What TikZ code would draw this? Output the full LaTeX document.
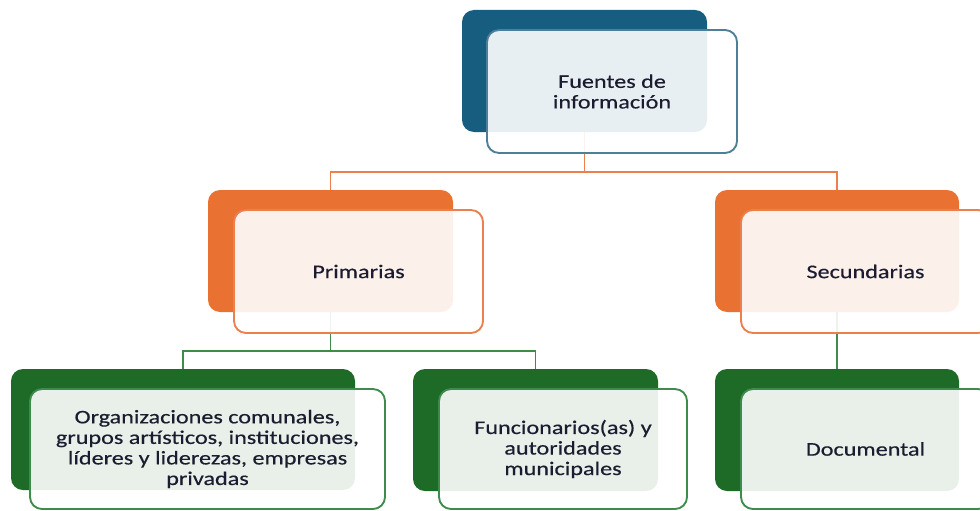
\documentclass[tikz,border=0pt]{standalone}
\usepackage{fontspec}
\setmainfont{Carlito}[FakeStretch=1.25, FakeBold=0.4]
\definecolor{bBack}{HTML}{175D80}
\definecolor{bLine}{HTML}{4E7F99}
\definecolor{oBack}{HTML}{E97132}
\definecolor{oLine}{HTML}{EC7F4E}
\definecolor{gBack}{HTML}{1E6B28}
\definecolor{gLine}{HTML}{3F8B4C}
\definecolor{txt}{HTML}{1C1C30}
\tikzset{
  backbox/.style={draw=none, rounded corners=9pt, inner sep=0pt},
  frontbox/.style={rounded corners=9pt, line width=1.4pt, fill=white, fill opacity=0.9,
    text opacity=1, inner sep=0pt, align=center, text=txt,
    font=\fontsize{14.5}{15.4}\selectfont},
  orangecon/.style={draw=oLine, line width=1.1pt},
  greencon/.style={draw=gLine, line width=1.1pt}
}
\begin{document}
\begin{tikzpicture}[x=0.75pt, y=-0.75pt]
\useasboundingbox (0,0) rectangle (980,510);
\clip (0,0) rectangle (980,510);
% back boxes
\node[backbox, fill=bBack, minimum width=183.75pt, minimum height=91.5pt] (topback) at (584.5,71) {};
\node[backbox, fill=oBack, minimum width=183.75pt, minimum height=91.5pt] (primback) at (330.5,251) {};
\node[backbox, fill=oBack, minimum width=183pt, minimum height=91.5pt] (secback) at (837,251) {};
\node[backbox, fill=gBack, minimum width=258pt, minimum height=90.75pt] (orgback) at (183,429.5) {};
\node[backbox, fill=gBack, minimum width=183.75pt, minimum height=91.5pt] (funback) at (535.5,430) {};
\node[backbox, fill=gBack, minimum width=183pt, minimum height=91.5pt] (docback) at (837,430) {};
% connectors
\coordinate (j1) at (584.5,172);
\coordinate (j2) at (330.5,351);
\draw[orangecon] (topback.south) -- (j1) -| (primback.north);
\draw[orangecon] (j1) -| (secback.north);
\draw[greencon] (primback.south) -- (j2) -| (orgback.north);
\draw[greencon] (j2) -| (funback.north);
\draw[greencon] (secback.south) -- (docback.north);
% front boxes
\node[frontbox, draw=bLine, minimum width=187.5pt, minimum height=92.25pt] (topfront) at (612,91.5) {Fuentes de\\información};
\node[frontbox, draw=oLine, minimum width=186.75pt, minimum height=92.25pt] (primfront) at (358.5,271.5) {Primarias};
\node[frontbox, draw=oLine, minimum width=186.75pt, minimum height=92.25pt] (secfront) at (865.5,271.5) {Secundarias};
\node[frontbox, draw=gLine, minimum width=266.25pt, minimum height=90pt] (orgfront) at (207.5,449) {Organizaciones comunales,\\grupos artísticos, instituciones,\\líderes y liderezas, empresas\\privadas};
\node[frontbox, draw=gLine, minimum width=186pt, minimum height=90pt] (funfront) at (563,449) {Funcionarios(as) y\\autoridades\\municipales};
\node[frontbox, draw=gLine, minimum width=186.75pt, minimum height=90pt] (docfront) at (865.5,449) {\raisebox{-2pt}{Documental}};
\end{tikzpicture}
\end{document}
